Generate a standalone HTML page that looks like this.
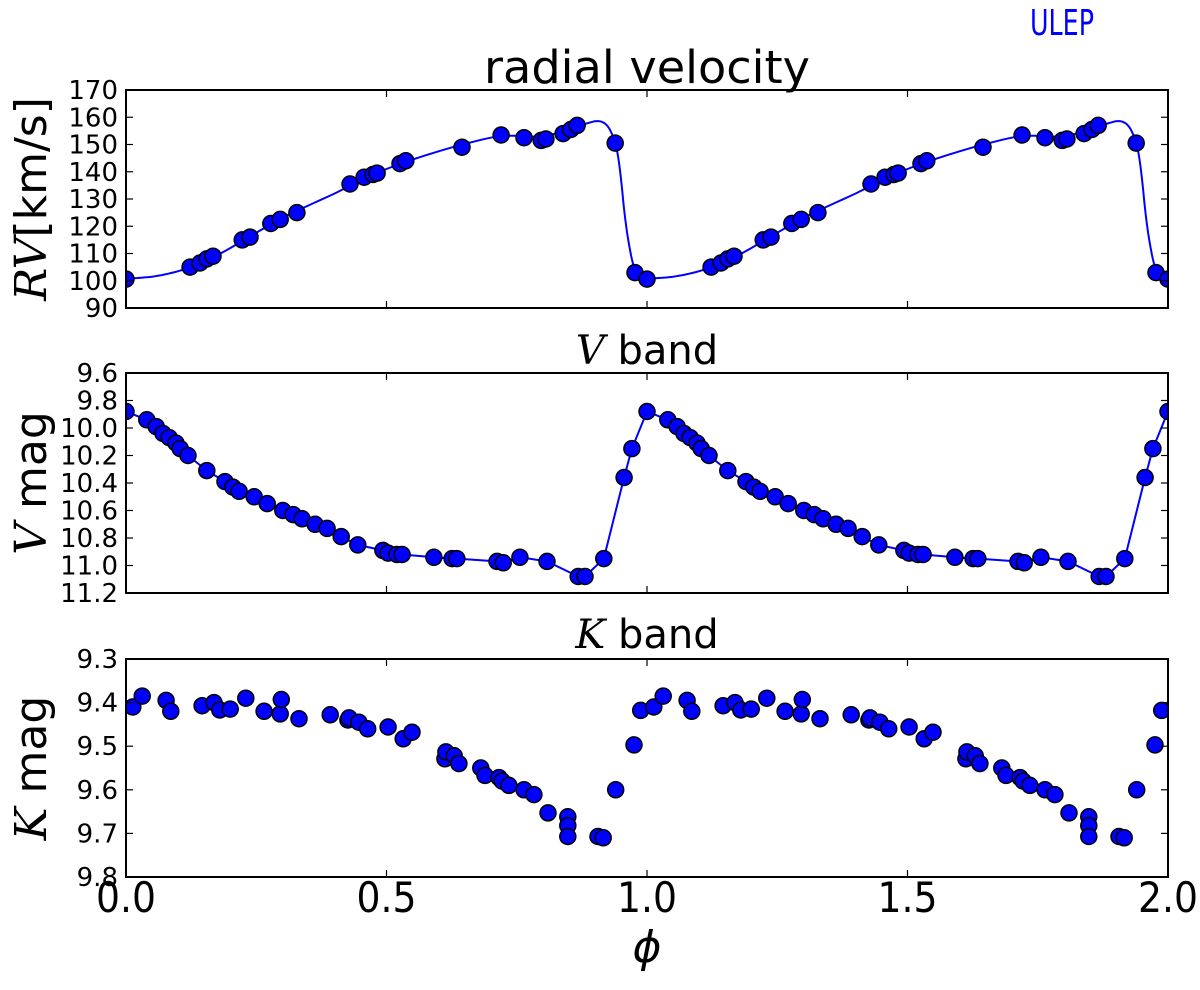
<!DOCTYPE html>
<html><head><meta charset="utf-8"><style>
body{margin:0;background:#fff;}
svg text{font-family:"DejaVu Sans","Liberation Sans",sans-serif;}
</style></head><body>
<svg id="chart" width="1200" height="985" viewBox="0 0 1200 985" xmlns="http://www.w3.org/2000/svg"></svg>
<script>
// ---- data (phase in [0,1), repeated over two cycles) ----
const rvPhase=[0.0,0.123,0.142,0.155,0.167,0.223,0.238,0.278,0.296,0.328,0.430,0.457,0.474,0.482,0.526,0.537,0.645,0.720,0.764,0.797,0.806,0.839,0.854,0.866,0.939,0.977];
const rvValue=[100.6,105,106.5,108,109,115,116,121,122.5,125,135.5,138,139,139.5,143,144,149,153.5,152.5,151.5,152,154,155.5,157,150.5,103];
const rvCurvePhase=[0,0.05,0.1,0.15,0.2,0.3,0.4,0.5,0.6,0.7,0.75,0.8,0.85,0.88,0.91,0.93,0.945,0.96,0.975,0.99,1.0];
const rvCurveValue=[100.8,101.5,103.5,107,112,123,132,141,147.5,152.5,153.2,153,155.5,157.5,158.5,155,145,120,105,101.3,100.8];
const vPhase=[0.0,0.040,0.058,0.071,0.083,0.096,0.104,0.119,0.155,0.190,0.205,0.217,0.246,0.271,0.301,0.321,0.338,0.363,0.386,0.413,0.445,0.493,0.503,0.520,0.530,0.591,0.626,0.635,0.712,0.724,0.756,0.808,0.868,0.881,0.917,0.956,0.971];
const vValue=[9.88,9.94,9.99,10.04,10.07,10.11,10.15,10.20,10.31,10.39,10.43,10.46,10.50,10.55,10.60,10.63,10.66,10.70,10.73,10.79,10.85,10.89,10.91,10.92,10.92,10.94,10.95,10.95,10.97,10.98,10.94,10.97,11.08,11.08,10.95,10.36,10.15];
const kPhase=[0.013,0.031,0.077,0.086,0.146,0.169,0.180,0.200,0.230,0.265,0.298,0.296,0.332,0.392,0.428,0.426,0.447,0.464,0.503,0.532,0.549,0.614,0.630,0.612,0.639,0.681,0.689,0.716,0.722,0.735,0.764,0.783,0.810,0.848,0.848,0.848,0.906,0.916,0.940,0.975,0.988];
const kValue=[9.41,9.385,9.395,9.42,9.407,9.40,9.417,9.415,9.39,9.42,9.393,9.426,9.437,9.428,9.435,9.44,9.445,9.46,9.456,9.483,9.468,9.513,9.522,9.529,9.54,9.55,9.567,9.572,9.58,9.59,9.60,9.611,9.653,9.662,9.682,9.707,9.707,9.71,9.60,9.497,9.418];
const rvTicks=[90,100,110,120,130,140,150,160,170];
const vTicks=[9.6,9.8,10.0,10.2,10.4,10.6,10.8,11.0,11.2];
const kTicks=[9.3,9.4,9.5,9.6,9.7,9.8];
const xTicks=[0.0,0.5,1.0,1.5,2.0];

const NS="http://www.w3.org/2000/svg";
const svg=document.getElementById('chart');
const L=126,R=1168;
const xs=p=>L+(R-L)*p/2;
function mk(tag,attrs,parent){const e=document.createElementNS(NS,tag);for(const k in attrs)e.setAttribute(k,attrs[k]);(parent||svg).appendChild(e);return e;}
function txt(s,attrs,parent){const e=mk('text',attrs,parent);e.textContent=s;return e;}

const panels=[
 {key:'rv',top:90,bot:308,min:90,max:170,inv:false,ticks:rvTicks,fmt:v=>String(v)},
 {key:'v',top:373,bot:593,min:9.6,max:11.2,inv:true,ticks:vTicks,fmt:v=>v.toFixed(1)},
 {key:'k',top:659,bot:877,min:9.3,max:9.8,inv:true,ticks:kTicks,fmt:v=>v.toFixed(1)}
];
panels.forEach(P=>{
 P.ys=v=>P.inv? P.top+(v-P.min)/(P.max-P.min)*(P.bot-P.top) : P.bot-(v-P.min)/(P.max-P.min)*(P.bot-P.top);
});

function expand(ph,val){const out=[];for(let c=0;c<3;c++)ph.forEach((p,i)=>{const q=p+c;if(q<=2.0001)out.push([q,val[i]]);});out.sort((a,b)=>a[0]-b[0]);return out;}

function drawPanel(P,pts,curve,name){
 const g=mk('g',{});
 
 
 const cid='clip-'+P.key;
 const cp=mk('clipPath',{id:cid},g);mk('rect',{x:L,y:P.top,width:R-L,height:P.bot-P.top},cp);
 if(curve){
  const d=curve.map((p,i)=>(i?'L':'M')+xs(p[0]).toFixed(1)+' '+P.ys(p[1]).toFixed(1)).join(' ');
  const path=mk('path',{d:d,fill:'none',stroke:'#0000ff','stroke-width':2,'clip-path':'url(#'+cid+')'},g);
  
  
 }
 pts.forEach(p=>{
  const c=mk('circle',{cx:xs(p[0]).toFixed(1),cy:P.ys(p[1]).toFixed(1),r:8,fill:'#0000ff',stroke:'#000','stroke-width':1.5,'clip-path':'url(#'+cid+')'},g);
  
  
 });
 const fr=mk('rect',{x:L,y:P.top,width:R-L,height:P.bot-P.top,fill:'none',stroke:'#000','stroke-width':2},g);
 
 
 P.ticks.forEach(t=>{
  const y=P.ys(t);
  mk('line',{x1:L,x2:L+7,y1:y,y2:y,stroke:'#000','stroke-width':1.2},g);
  mk('line',{x1:R-7,x2:R,y1:y,y2:y,stroke:'#000','stroke-width':1.2},g);
  const tl=txt(P.fmt(t),{x:L-8,y:y+9,'text-anchor':'end','font-size':26,fill:'#000'},g);
  
  
 });
 xTicks.forEach(t=>{
  const x=xs(t);
  mk('line',{x1:x,x2:x,y1:P.top,y2:P.top+7,stroke:'#000','stroke-width':1.2},g);
  mk('line',{x1:x,x2:x,y1:P.bot-7,y2:P.bot,stroke:'#000','stroke-width':1.2},g);
 });
}

function smooth(arr){const out=[];for(let i=0;i<arr.length-1;i++){const p0=arr[Math.max(0,i-1)],p1=arr[i],p2=arr[i+1],p3=arr[Math.min(arr.length-1,i+2)];for(let s=0;s<8;s++){const t=s/8,t2=t*t,t3=t2*t;const f=(a,b,c,d)=>0.5*((2*b)+(-a+c)*t+(2*a-5*b+4*c-d)*t2+(-a+3*b-3*c+d)*t3);out.push([f(p0[0],p1[0],p2[0],p3[0]),f(p0[1],p1[1],p2[1],p3[1])]);}}out.push(arr[arr.length-1]);return out;}
const rvCurve=[];rvCurvePhase.forEach((p,i)=>rvCurve.push([p,rvCurveValue[i]]));
rvCurvePhase.forEach((p,i)=>{if(i>0)rvCurve.push([p+1,rvCurveValue[i]]);});

drawPanel(panels[0],expand(rvPhase,rvValue),smooth(rvCurve),'rv');
const vPts=expand(vPhase,vValue);
drawPanel(panels[1],vPts,vPts,'vband');
drawPanel(panels[2],expand(kPhase,kValue),null,'kband');

xTicks.forEach(t=>{
 const e=txt(t.toFixed(1),{x:xs(t),y:912,'text-anchor':'middle','font-size':42,textLength:60,lengthAdjust:'spacingAndGlyphs',fill:'#000'});
 
 
});
</script>
<svg width="1200" height="985" style="position:absolute;left:0;top:0" xmlns="http://www.w3.org/2000/svg">
<text x="1030" y="35" font-size="36" textLength="64" lengthAdjust="spacingAndGlyphs" fill="#0000ff" font-family="DejaVu Sans, sans-serif">ULEP</text>
<text x="484" y="83" font-size="45" textLength="326" lengthAdjust="spacingAndGlyphs" font-family="DejaVu Sans, sans-serif">radial velocity</text>
<text x="647" y="364" font-size="40" text-anchor="middle" font-family="DejaVu Sans, sans-serif"><tspan font-family="DejaVu Serif, serif" font-style="italic">V</tspan> band</text>
<text x="647" y="648" font-size="40" text-anchor="middle" font-family="DejaVu Sans, sans-serif"><tspan font-family="DejaVu Serif, serif" font-style="italic">K</tspan> band</text>
<text transform="translate(46,199) rotate(-90)" font-size="44" text-anchor="middle" font-family="DejaVu Sans, sans-serif"><tspan font-family="DejaVu Serif, serif" font-style="italic">RV</tspan>[km/s]</text>
<text transform="translate(46,483) rotate(-90)" font-size="44" text-anchor="middle" font-family="DejaVu Sans, sans-serif"><tspan font-family="DejaVu Serif, serif" font-style="italic">V</tspan> mag</text>
<text transform="translate(46,768) rotate(-90)" font-size="44" text-anchor="middle" font-family="DejaVu Sans, sans-serif"><tspan font-family="DejaVu Serif, serif" font-style="italic">K</tspan> mag</text>
<text x="647" y="962" font-size="44" text-anchor="middle" font-style="italic" font-family="DejaVu Serif, serif">ϕ</text>
</svg>
</body></html>
